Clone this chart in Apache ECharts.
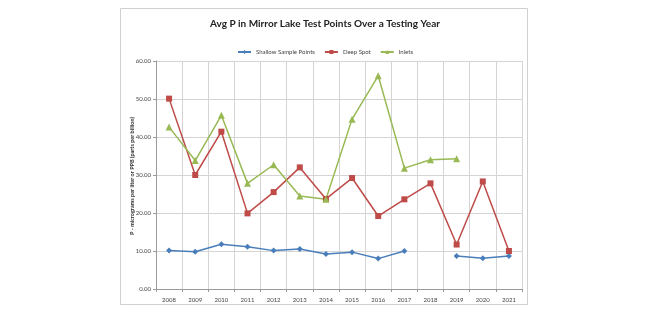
<!DOCTYPE html>
<html><head><meta charset="utf-8">
<script src="https://cdn.jsdelivr.net/npm/echarts@6/dist/echarts.min.js"></script>
<style>html,body{margin:0;padding:0;background:#fff}#c{width:650px;height:325px}</style>
</head><body><div id="c"></div>
<script>
var years = ['2008','2009','2010','2011','2012','2013','2014','2015','2016','2017','2018','2019','2020','2021'];
var shallow = [10.1, 9.8, 11.8, 11.1, 10.1, 10.5, 9.2, 9.7, 8.0, 10.0, null, 8.7, 8.1, 8.7];
var deepSpot = [50.1, 30.0, 41.4, 19.9, 25.5, 32.0, 23.7, 29.2, 19.2, 23.6, 27.8, 11.7, 28.3, 10.0];
var inlets = [42.6, 33.8, 45.7, 27.8, 32.7, 24.5, 23.6, 44.7, 56.1, 31.8, 34.0, 34.3, null, null];
var seriesNames = ['Shallow Sample Points', 'Deep Spot', 'Inlets'];
var yTicks = {min: 0, max: 60, interval: 10};
var yName = 'P - micrograms per liter or PPB (parts per billion)';

var chart = echarts.init(document.getElementById('c'), null, {renderer: 'canvas'});
var fontFam = 'Lato, "Open Sans", sans-serif';
function mk(name, data, color, symbol, size) {
  return {
    name: name, type: 'line', data: data, symbol: symbol, symbolSize: size,
    connectNulls: false,
    lineStyle: {color: color, width: 1.5},
    itemStyle: {color: color},
    emphasis: {disabled: true}
  };
}
chart.setOption({
  animation: false,
  backgroundColor: '#fff',
  graphic: [{
    type: 'rect', shape: {x: 120.5, y: 8.5, width: 407, height: 296},
    style: {fill: 'none', stroke: '#d0d0d0', lineWidth: 1}, z: -1
  }, {
    type: 'text', x: 132, y: 176, rotation: Math.PI / 2,
    style: {text: yName, fontFamily: fontFam, fontSize: 5.5, fontWeight: 'bold',
      fill: '#333', align: 'center', verticalAlign: 'middle'}
  }],
  title: {
    text: 'Avg P in Mirror Lake Test Points Over a Testing Year',
    left: 'center', top: 14,
    textStyle: {fontFamily: fontFam, fontSize: 10, fontWeight: 'bold', color: '#222'}
  },
  legend: {
    top: 44, left: 'center', itemWidth: 13, itemHeight: 5, itemGap: 9,
    textStyle: {fontFamily: fontFam, fontSize: 6, color: '#444'},
    data: seriesNames
  },
  grid: {left: 156, right: 128, top: 61, bottom: 36, containLabel: false},
  xAxis: {
    type: 'category', data: years, boundaryGap: true,
    axisLine: {lineStyle: {color: '#9a9a9a'}},
    axisTick: {show: true, length: 3, lineStyle: {color: '#9a9a9a'}},
    axisLabel: {fontFamily: fontFam, fontSize: 6, color: '#444', margin: 8},
    splitLine: {show: true, lineStyle: {color: '#d4d4d4', width: 1}}
  },
  yAxis: {
    type: 'value', min: yTicks.min, max: yTicks.max, interval: yTicks.interval,
    axisLine: {show: true, lineStyle: {color: '#9a9a9a'}},
    axisTick: {show: true, length: 3, lineStyle: {color: '#9a9a9a'}},
    axisLabel: {fontFamily: fontFam, fontSize: 6, color: '#444', margin: 5,
      formatter: function (v) { return v.toFixed(2); }},
    splitLine: {show: true, lineStyle: {color: '#d4d4d4', width: 1}}
  },
  series: [
    mk(seriesNames[0], shallow, '#4a7ebb', 'diamond', 6),
    mk(seriesNames[1], deepSpot, '#be4b48', 'rect', 6),
    mk(seriesNames[2], inlets, '#98b954', 'triangle', 7)
  ]
});
</script></body></html>
